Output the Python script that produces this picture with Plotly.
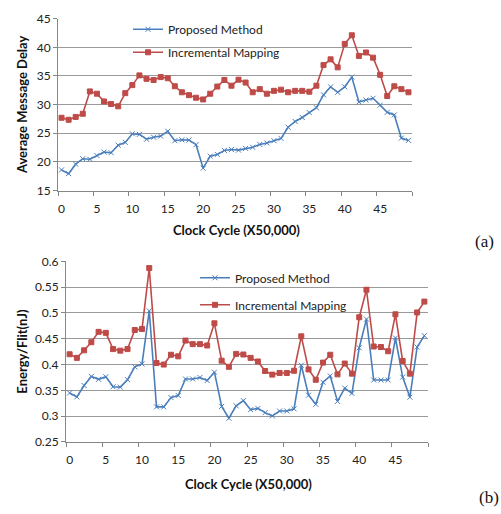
import plotly.graph_objects as go

cycles = list(range(50))

delay_proposed = [18.6, 17.95, 19.6, 20.55, 20.45, 21.1, 21.7, 21.6, 22.9, 23.4,
                  24.9, 24.8, 23.95, 24.3, 24.5, 25.35, 23.7, 23.85, 23.8, 23.0,
                  18.9, 21.0, 21.3, 22.0, 22.15, 22.05, 22.35, 22.55, 23.05, 23.3,
                  23.7, 24.1, 26.05, 27.05, 27.75, 28.6, 29.45, 31.7, 33.1, 32.15,
                  33.1, 34.8, 30.45, 30.8, 31.1, 29.9, 28.65, 28.2, 24.15, 23.75]

delay_incremental = [27.7, 27.35, 27.85, 28.4, 32.3, 31.9, 30.55, 30.1, 29.7, 32.0,
                     33.4, 35.1, 34.5, 34.3, 34.8, 34.6, 33.2, 32.15, 31.65, 31.2,
                     30.9, 31.9, 33.15, 34.3, 33.3, 34.35, 33.85, 32.15, 32.7, 31.9,
                     32.4, 32.6, 32.15, 32.4, 32.4, 32.25, 33.3, 36.9, 37.9, 36.5,
                     40.6, 42.1, 38.5, 39.1, 38.2, 35.2, 31.5, 33.2, 32.7, 32.15]

energy_proposed = [0.345, 0.3374, 0.3594, 0.377, 0.3714, 0.3764, 0.357, 0.3563, 0.3707, 0.3956,
                   0.4013, 0.504, 0.318, 0.318, 0.336, 0.340, 0.372, 0.372, 0.375, 0.369,
                   0.3852, 0.319, 0.296, 0.320, 0.330, 0.3126, 0.315, 0.3068, 0.3005, 0.310,
                   0.310, 0.3142, 0.3987, 0.3406, 0.323, 0.3657, 0.378, 0.3286, 0.3544, 0.3443,
                   0.4326, 0.488, 0.370, 0.370, 0.370, 0.4515, 0.3757, 0.3368, 0.4339, 0.456]

energy_incremental = [0.420, 0.413, 0.4276, 0.4433, 0.4634, 0.4615, 0.430, 0.427, 0.430, 0.467,
                      0.469, 0.587, 0.403, 0.400, 0.419, 0.416, 0.4465, 0.4396, 0.4396, 0.437,
                      0.480, 0.4075, 0.3956, 0.4207, 0.4195, 0.413, 0.406, 0.3875, 0.3805, 0.3837,
                      0.3837, 0.388, 0.4547, 0.3906, 0.3705, 0.4038, 0.419, 0.381, 0.402, 0.3824,
                      0.4917, 0.545, 0.435, 0.434, 0.4258, 0.4974, 0.407, 0.3824, 0.501, 0.522]

x_tickvals = [0, 5, 10, 15, 20, 25, 30, 35, 40, 45]
x_ticktext = ["0", "5", "10", "15", "20", "25", "30", "35", "40", "45"]
ya_tickvals = [15, 20, 25, 30, 35, 40, 45]
ya_ticktext = ["15", "20", "25", "30", "35", "40", "45"]
yb_tickvals = [0.25, 0.3, 0.35, 0.4, 0.45, 0.5, 0.55, 0.6]
yb_ticktext = ["0.25", "0.3", "0.35", "0.4", "0.45", "0.5", "0.55", "0.6"]

BLUE = "#4A7EBB"
RED = "#BE4B48"
FONT = "Lato"
W, H = 501, 514

fig = go.Figure()

def add(y, name, color, symbol, xa, ya, legend):
    fig.add_trace(go.Scatter(
        x=cycles, y=y, name=name, mode="lines+markers",
        line=dict(color=color, width=1.6),
        marker=dict(symbol=symbol, size=5,
                    color=color, line=dict(color=color, width=1)),
        xaxis=xa, yaxis=ya, legend=legend, legendgroup=legend + name,
    ))

add(delay_proposed, "Proposed Method", BLUE, "x-thin", "x", "y", "legend")
add(delay_incremental, "Incremental Mapping", RED, "square", "x", "y", "legend")
add(energy_proposed, "Proposed Method", BLUE, "x-thin", "x2", "y2", "legend2")
add(energy_incremental, "Incremental Mapping", RED, "square", "x2", "y2", "legend2")

def px_x(p):
    return p / W

def px_y(p):
    return 1 - p / H

xaxis_common = dict(
    range=[-0.5, 49.5], tickmode="array", tickvals=x_tickvals, ticktext=x_ticktext,
    ticks="", showgrid=False, zeroline=False, showline=True, linecolor="#868686",
    linewidth=1, tickfont=dict(family=FONT, size=12, color="#222"),
    ticklabelstandoff=7,
    minor=dict(tick0=-0.5, dtick=5, ticks="outside", ticklen=4, tickcolor="#868686",
               showgrid=False),
)
yaxis_common = dict(
    tickmode="array", showgrid=True, gridcolor="#9A9A9A", gridwidth=1,
    zeroline=False, showline=True, linecolor="#868686", linewidth=1,
    ticks="outside", ticklen=4, tickcolor="#868686",
    tickfont=dict(family=FONT, size=12, color="#222"),
)

fig.update_layout(
    width=W, height=H, margin=dict(l=0, r=0, t=0, b=0),
    paper_bgcolor="white", plot_bgcolor="white",
    xaxis=dict(domain=[px_x(58), px_x(412)], anchor="y", **xaxis_common),
    yaxis=dict(domain=[px_y(188), px_y(11)], anchor="x", range=[15, 45],
               tickvals=ya_tickvals, ticktext=ya_ticktext, **yaxis_common),
    xaxis2=dict(domain=[px_x(66), px_x(428)], anchor="y2", **xaxis_common),
    yaxis2=dict(domain=[px_y(447), px_y(261)], anchor="x2", range=[0.25, 0.6],
                tickvals=yb_tickvals, ticktext=yb_ticktext, **yaxis_common),
    legend=dict(x=px_x(128), y=px_y(7), xanchor="left", yanchor="top",
                bgcolor="rgba(0,0,0,0)", font=dict(family=FONT, size=12, color="#222"),
                tracegroupgap=4, itemwidth=30),
    legend2=dict(x=px_x(195), y=px_y(263), xanchor="left", yanchor="top",
                 bgcolor="rgba(0,0,0,0)", font=dict(family=FONT, size=12, color="#222"),
                 tracegroupgap=8, itemwidth=30),
    showlegend=True,
)

ann = [
    dict(text="<b>Average Message Delay</b>", x=px_x(22), y=px_y(100), textangle=-90,
         font=dict(family=FONT, size=13, color="#111")),
    dict(text="<b>Clock Cycle (X50,000)</b>", x=px_x(236), y=px_y(229),
         font=dict(family=FONT, size=13, color="#111")),
    dict(text="(a)", x=px_x(484), y=px_y(241),
         font=dict(family="Liberation Serif", size=17, color="#111")),
    dict(text="<b>Energy/Flit(nJ)</b>", x=px_x(22), y=px_y(354), textangle=-90,
         font=dict(family=FONT, size=13, color="#111")),
    dict(text="<b>Clock Cycle (X50,000)</b>", x=px_x(248), y=px_y(490),
         font=dict(family=FONT, size=13, color="#111")),
    dict(text="(b)", x=px_x(489), y=px_y(504),
         font=dict(family="Liberation Serif", size=17, color="#111")),
]
for a in ann:
    a.update(xref="paper", yref="paper", showarrow=False, xanchor="center", yanchor="middle")
fig.update_layout(annotations=ann)

fig.write_html("out.html", config={"displayModeBar": False},
               post_script="document.body.style.margin='0';document.body.style.overflow='hidden';")
